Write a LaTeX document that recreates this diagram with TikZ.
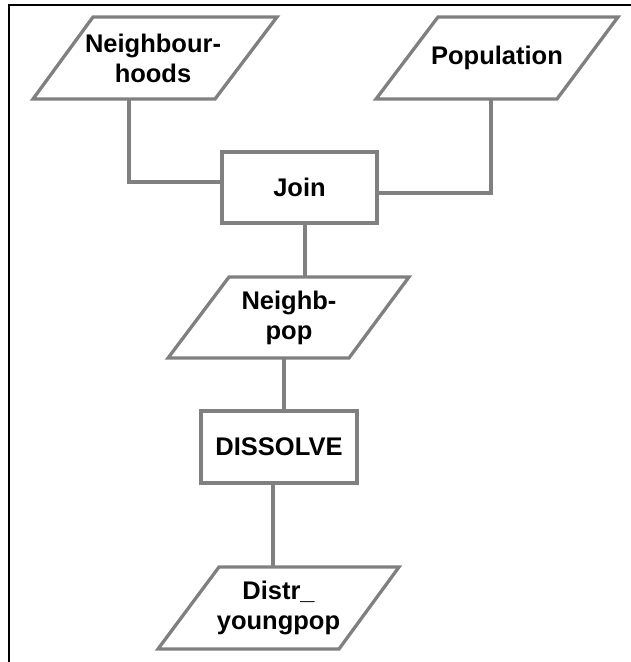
\documentclass[tikz,border=0pt]{standalone}
\usepackage{fontspec}
\setmainfont{Liberation Sans}
\usetikzlibrary{calc}
\definecolor{linegray}{RGB}{128,128,128}
\begin{document}
\begin{tikzpicture}[x=1pt,y=-1pt,
  shapeline/.style={draw=linegray, line width=3.3pt, fill=white},
  conn/.style={draw=linegray, line width=3.3pt},
  lbl/.style={font=\fontsize{25.5}{30}\selectfont\bfseries, align=center, inner sep=0pt},
  procbox/.style={shapeline, font=\fontsize{25.5}{30}\selectfont\bfseries, inner sep=0pt}]
\useasboundingbox (0,0) rectangle (631,662);
% frame
\draw[black, line width=2.5pt] (631,5) -- (9,5) -- (9,662);
% data shapes
\draw[shapeline] (93,17) -- (277,17) -- (215,99) -- (33,99) -- cycle;
\node[lbl] (nb) at (153,58) {Neighbour-\\hoods};
\coordinate (nbB) at (129,99);
\draw[shapeline] (438,17) -- (618,17) -- (557,99) -- (376,99) -- cycle;
\node[lbl] (pop) at (497,58) {Population};
\coordinate (popB) at (491,99);
\draw[shapeline] (229,277) -- (409,277) -- (349,358) -- (168,358) -- cycle;
\node[lbl] (np) at (289,317.5) {Neighb-\\pop};
\coordinate (npT) at (305,277);
\coordinate (npB) at (284,358);
\draw[shapeline] (219,567) -- (399,567) -- (339,649) -- (158,649) -- cycle;
\node[lbl] (dy) at (278.5,608) {Distr\_\\youngpop};
\coordinate (dyT) at (273,567);
% process boxes
\node[procbox, minimum width=155pt, minimum height=71pt] (join) at (299.5,187.5) {Join};
\node[procbox, minimum width=156pt, minimum height=72pt] (diss) at (279,447) {DISSOLVE};
% connectors
\draw[conn] (nbB) |- ($(join.west)+(0,-5.5)$);
\draw[conn] (popB) |- ($(join.east)+(0,5.5)$);
\draw[conn] (join.south -| npT) -- (npT);
\draw[conn] (npB) -- (npB |- diss.north);
\draw[conn] (diss.south -| dyT) -- (dyT);
\end{tikzpicture}
\end{document}
